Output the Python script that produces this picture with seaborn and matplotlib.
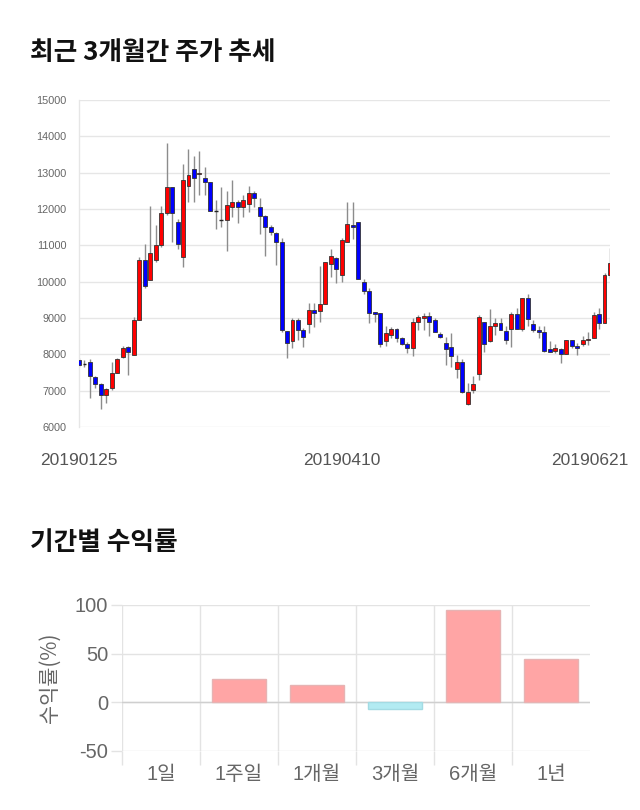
import numpy as np
import pandas as pd
import matplotlib
matplotlib.use("Agg")
import matplotlib.pyplot as plt
import matplotlib.transforms as mtransforms
import seaborn as sns

# ---------------- data ----------------
opens = [7835, 7725, 7780, 7367, 7184, 6890, 7065, 7477, 7936, 8202,
         7982, 8936, 10587, 10037, 10587, 11000, 11890, 12596, 11642, 10688,
         12642, 13092, 12954, 12844, 12743, 11945, 11697, 11697, 12046, 12193,
         12046, 12147, 12450, 12046, 11798, 11495, 11349, 11092, 8633, 8367,
         8945, 8670, 8826, 9211, 9183, 9376, 10486, 10642, 10184, 11083,
         11550, 11651, 9991, 9752, 9156, 9128, 8376, 8532, 8697, 8440,
         8294, 8165, 8890, 9000, 9055, 8936, 8560, 8321, 8211, 7587,
         7780, 6624, 7018, 7468, 8881, 8376, 8789, 8853, 8651, 8688,
         9101, 8697, 9560, 8844, 8661, 8606, 8138, 8092, 8138, 8018,
         8385, 8239, 8275, 8404, 8440, 9101, 8853, 10184]
highs = [7910, 7850, 7870, 7400, 7200, 7065, 7780, 7910, 8240, 8240,
         9037, 10688, 11037, 12092, 11560, 12092, 13807, 12596, 11725, 13248,
         13650, 13459, 13606, 13147, 12743, 12248, 12596, 12495, 12798, 12248,
         12385, 12642, 12495, 12294, 11835, 11560, 11376, 11193, 8633, 9000,
         8991, 8734, 9404, 9404, 10431, 10532, 10899, 10688, 11193, 12202,
         12202, 11651, 10074, 9816, 9174, 9128, 8789, 8762, 8734, 8486,
         8349, 9000, 9083, 9128, 9174, 8991, 8606, 8486, 8578, 7982,
         7872, 7202, 7400, 9092, 8881, 9248, 8991, 8991, 8789, 9174,
         9266, 9560, 9661, 8936, 8789, 8780, 8367, 8284, 8165, 8394,
         8385, 8303, 8505, 8606, 9174, 9266, 10230, 10917]
lows = [7660, 7660, 6790, 7065, 6495, 6650, 7018, 7477, 7890, 7430,
        7982, 8936, 9835, 10037, 10550, 10945, 11835, 11083, 10900, 10395,
        12202, 12202, 12385, 12385, 11945, 11440, 11495, 10844, 11789, 11605,
        11789, 11927, 12064, 11303, 10706, 11284, 10459, 8624, 7890, 8165,
        8395, 8193, 8578, 8743, 8881, 9376, 10138, 9973, 10000, 11083,
        11174, 10074, 9661, 8872, 8899, 8211, 8239, 8440, 8349, 8257,
        8028, 7954, 8670, 8670, 8505, 8606, 8440, 7706, 7660, 7340,
        6927, 6606, 6927, 7294, 8073, 8330, 8532, 8679, 8294, 8193,
        8688, 8651, 8789, 8615, 8440, 8073, 8073, 8028, 7771, 8000,
        8165, 7982, 8229, 8257, 8440, 8688, 8853, 10092]
closes = [7707, 7725, 7395, 7174, 6890, 7037, 7477, 7862, 8184, 8055,
          8936, 10587, 9890, 10798, 11000, 11890, 12596, 11890, 11037, 12789,
          12945, 12844, 13000, 12752, 11945, 11945, 11697, 12101, 12193, 12046,
          12239, 12440, 12294, 11798, 11495, 11376, 11092, 8661, 8303, 8945,
          8670, 8486, 9211, 9128, 9386, 10532, 10697, 10339, 11147, 11596,
          11495, 10074, 9752, 9128, 9101, 8275, 8587, 8697, 8440, 8294,
          8165, 8890, 9028, 9055, 8881, 8606, 8486, 8138, 7963, 7780,
          6973, 6954, 7174, 9028, 8284, 8789, 8853, 8679, 8385, 9101,
          8688, 9560, 8963, 8661, 8606, 8083, 8073, 8184, 8018, 8385,
          8239, 8184, 8404, 8431, 9074, 8853, 10184, 10505]
date_ticks = ["20190125", "20190410", "20190621"]
date_tick_idx = [0, 48, 97]
price_ticks = list(range(6000, 15001, 1000))

periods = ["1일", "1주일", "1개월", "3개월", "6개월", "1년"]
returns = [0.0, 23.7, 17.5, -6.5, 94.8, 44.3]

# ---------------- style ----------------
sns.set_theme(style="white")
plt.rcParams["font.family"] = ["Liberation Sans", "Noto Sans CJK KR", "DejaVu Sans"]
plt.rcParams["axes.unicode_minus"] = False

fig = plt.figure(figsize=(6.4, 8.1), dpi=100)

# titles
fig.text(30 / 640, 1 - 52 / 810, "최근 3개월간 주가 추세", fontsize=18.5, fontweight="bold",
         color="#111111", ha="left", va="center",
         family=["Noto Sans CJK KR", "DejaVu Sans"])
fig.text(30 / 640, 1 - 543 / 810, "기간별 수익률", fontsize=18.5, fontweight="bold",
         color="#111111", ha="left", va="center",
         family=["Noto Sans CJK KR", "DejaVu Sans"])

# ---------------- candlestick chart ----------------
ax1 = fig.add_axes([79 / 640, 1 - 427 / 810, (610 - 79) / 640, (427 - 100) / 810])
df = pd.DataFrame({"open": opens, "high": highs, "low": lows, "close": closes})
df["idx"] = np.arange(len(df))
df["up"] = df["close"] >= df["open"]
df["bottom"] = df[["open", "close"]].min(axis=1)
df["height"] = (df["close"] - df["open"]).abs()

ax1.vlines(df["idx"], df["low"], df["high"], color="#8c8c8c", linewidth=1.0, zorder=2)
colors = np.where(df["up"], "#ff0000", "#0000ff")
doji = df["height"] == 0
ax1.bar(df["idx"][~doji], df["height"][~doji], bottom=df["bottom"][~doji], width=0.72,
        color=colors[~doji], edgecolor="#333333", linewidth=0.6, zorder=3)
ax1.hlines(df["open"][doji], df["idx"][doji] - 0.36, df["idx"][doji] + 0.36,
           color="#222222", linewidth=1.0, zorder=3)

ax1.set_xlim(0, len(df) - 1)
ax1.set_ylim(6000, 15000)
ax1.set_yticks(price_ticks)
ax1.set_yticklabels([str(v) for v in price_ticks])
ax1.set_xticks(date_tick_idx)
ax1.set_xticklabels(date_ticks)
ax1.grid(axis="y", color="#e6e6e6", linewidth=1.0)
ax1.set_axisbelow(True)
for s in ["top", "right", "bottom"]:
    ax1.spines[s].set_visible(False)
ax1.spines["left"].set_color("#e6e6e6")
ax1.spines["left"].set_linewidth(1.0)
ax1.tick_params(axis="y", length=0, pad=9, labelsize=7.8, labelcolor="#666666")
ax1.tick_params(axis="x", length=0, pad=19, labelsize=12.5, labelcolor="#555555")
lbls = ax1.get_xticklabels()
lbls[-1].set_transform(lbls[-1].get_transform() +
                       mtransforms.ScaledTranslation(-20 / 100, 0, fig.dpi_scale_trans))

# ---------------- returns bar chart ----------------
ax2 = fig.add_axes([122 / 640, 1 - 751 / 810, (590 - 122) / 640, (751 - 605) / 810])
rdf = pd.DataFrame({"period": periods, "ret": returns})
rdf["sign"] = np.where(rdf["ret"] >= 0, "pos", "neg")
sns.barplot(data=rdf, x="period", y="ret", hue="sign",
            palette={"pos": "#ffa5a5", "neg": "#b2ebf2"}, dodge=False, saturation=1,
            width=0.69, legend=False, ax=ax2, zorder=3)
for p in ax2.patches:
    if p.get_height() == 0:
        p.set_linewidth(0)
    elif p.get_height() > 0:
        p.set_edgecolor("#e6b3b3")
        p.set_linewidth(1.0)
    else:
        p.set_edgecolor("#a3dbe3")
        p.set_linewidth(1.0)

ax2.set_xlim(-0.5, len(periods) - 0.5)
ax2.set_ylim(-50, 100)
ax2.set_yticks([-50, 0, 50, 100])
ax2.set_yticklabels(["-50", "0", "50", "100"])
ax2.set_xlabel("")
ax2.set_ylabel("수익률(%)", fontsize=15, color="#666666", labelpad=10,
               family=["Noto Sans CJK KR", "DejaVu Sans"])
for s in ["top", "right", "bottom", "left"]:
    ax2.spines[s].set_visible(False)
ax2.grid(axis="y", color="#e3e3e3", linewidth=1.0)
ax2.axhline(0, color="#cfcfcf", linewidth=1.0, zorder=2)
ax2.set_xticks(np.arange(-0.5, len(periods) - 1, 1.0), minor=True)
ax2.grid(axis="x", which="minor", color="#e3e3e3", linewidth=1.0)
ax2.grid(axis="x", which="major", visible=False)
ax2.set_axisbelow(True)
ax2.tick_params(axis="x", which="major", length=0, pad=10, labelsize=14.5, labelcolor="#666666")
ax2.tick_params(axis="x", which="minor", length=10, width=1.0, color="#e3e3e3", bottom=True)
ax2.tick_params(axis="y", length=8, width=1.0, color="#e3e3e3", left=True, pad=2,
                labelsize=14.5, labelcolor="#666666")

fig.savefig("out.png", dpi=100)
